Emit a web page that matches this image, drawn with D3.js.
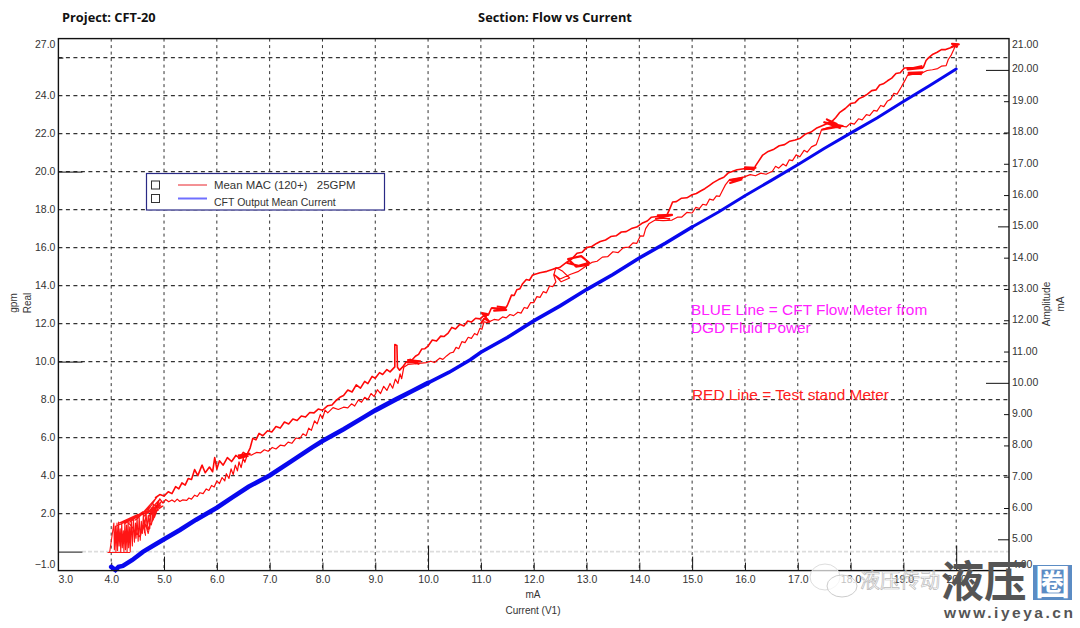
<!DOCTYPE html>
<html>
<head>
<meta charset="utf-8">
<script src="https://cdnjs.cloudflare.com/ajax/libs/d3/7.8.5/d3.min.js"></script>
<style>
  html, body { margin: 0; background: #fff; }
  text { font-family: "Liberation Sans", Arial, sans-serif; fill: #333; white-space: pre; }
  .domain { display: none; }
</style>
</head>
<body>
<svg id="chart" width="1080" height="628"></svg>
<script>
// values: [mA, gpm] for red, [mA, mA] for blue
const noiseTrace = [
  [3.93,-0.05],[4.35,-0.05],[3.97,-0.05],[4.05,1.5],[4.06,0.1],[4.08,1.35],[4.09,0],[4.11,1.5],[4.12,0.05],[4.14,1.55],
  [4.15,0.3],[4.17,1.2],[4.18,0],[4.2,1.55],[4.21,0.2],[4.23,1.1],[4.24,0],[4.26,1.6],[4.27,0.1],[4.29,1.4],
  [4.3,0],[4.32,1.65],[4.33,0.2],[4.35,1.3],[4.36,0],[4.38,1.7],[4.4,0.3],[4.42,1.75],[4.44,0.5],[4.46,1.5],
  [4.47,0.7],[4.49,1.8],[4.51,0.55],[4.53,1.85],[4.55,0.6],[4.57,1.6],[4.59,0.95],[4.61,2.0],[4.63,1.0],[4.66,2.1],
  [4.68,1.15],[4.7,1.9],[4.73,1.2],[4.76,2.3],[4.72,1.55],[4.8,2.5],[4.76,1.4],[4.84,2.45],[4.78,1.65],[4.88,2.6],
  [4.82,1.8],[4.92,2.55],[4.78,2.0],[4.96,2.65],[4.72,2.1],[4.94,2.45],[4.68,2.0],[4.9,2.7],[4.62,1.85],[4.86,2.85],
  [4.6,2.05],[4.98,2.4],[4.7,1.85],[4.85,2.3],[4.55,1.9],[4.8,2.65],[4.5,1.75],[4.75,2.4],[4.45,1.65],[4.7,2.25],
  [4.35,1.55],[4.6,2.1],[4.25,1.45],[4.5,1.95],[4.15,1.5],[4.42,1.8],[4.1,1.35],[4.3,1.6],[4.55,0.75],[4.6,1.4],
  [4.65,0.85],[4.62,1.7],[4.7,0.95],[4.74,1.5],[4.68,1.1],[4.8,1.7],[4.84,2.1],[4.9,2.2]
];
const lowerTrace = [
  [4.85,2.3],[4.92,2.78],[4.98,2.55],[5.03,2.74],[5.09,2.62],[5.15,2.72],[5.2,2.62],[5.25,2.76],[5.3,2.64],[5.35,2.72],
  [5.43,2.7],[5.47,2.82],[5.52,2.76],[5.58,2.97],[5.63,2.9],[5.68,3.1],[5.74,3.05],[5.8,3.3],[5.85,3.22],[5.9,3.48],
  [5.95,3.4],[6.0,3.72],[6.05,3.58],[6.1,3.9],[6.15,3.72],[6.18,4.1],[6.23,3.85],[6.27,4.35],[6.31,4.05],[6.35,4.55],
  [6.39,4.25],[6.42,4.72],[6.46,4.42],[6.5,4.92],[6.53,4.7],[6.58,5.12],[6.66,5.08],[6.75,5.22],[6.83,5.2],[6.9,5.36],
  [6.97,5.28],[7.05,5.48],[7.12,5.4],[7.2,5.6],[7.28,5.56],[7.35,5.76],[7.42,5.7],[7.5,5.98],[7.57,5.94],[7.63,6.2],
  [7.69,6.1],[7.74,6.5],[7.79,6.38],[7.85,6.88],[7.9,6.72],[7.96,7.22],[8.0,7.0],[8.05,7.45],[8.1,7.3],[8.2,7.58],
  [8.3,7.48],[8.4,7.6],[8.48,7.56],[8.55,7.78],[8.61,7.66],[8.68,7.98],[8.74,7.86],[8.8,8.12],[8.86,8.0],[8.92,8.32],
  [8.98,8.16],[9.04,8.52],[9.1,8.32],[9.16,8.7],[9.22,8.48],[9.28,8.85],[9.33,8.6],[9.38,9.08],[9.43,8.85],[9.47,9.35],
  [9.5,9.1],[9.54,9.7],[9.62,9.85],[9.97,9.95],[10.05,10.02],[10.12,9.95],[10.22,10.18],[10.28,10.12],[10.35,10.3],[10.42,10.45],
  [10.48,10.5],[10.53,10.75],[10.58,10.68],[10.64,11.05],[10.7,11.0],[10.76,11.28],[10.82,11.22],[10.88,11.48],[10.93,11.4],[10.98,11.75],
  [11.02,11.7],[11.06,12.1],[11.12,12.05],[11.25,12.22],[11.33,12.18],[11.41,12.35],[11.48,12.3],[11.55,12.48],[11.62,12.42],[11.7,12.6],
  [11.76,12.55],[11.82,12.85],[11.88,12.8],[11.94,13.1],[12.0,13.1],[12.06,13.42],[12.12,13.38],[12.18,13.68],[12.24,13.62],[12.3,13.98],
  [12.36,13.95],[12.42,14.2],[12.38,14.55],[12.42,14.95],[12.55,14.75],[12.68,14.4],[12.52,14.2],[12.38,14.6],[12.5,14.35],[12.7,14.6],
  [12.85,14.75],[13.03,15.1],[13.1,15.22],[13.2,15.28],[13.3,15.5],[13.4,15.52],[13.5,15.78],[13.6,15.74],[13.7,16.0],[13.8,16.02],
  [13.88,16.25],[13.95,16.22],[14.02,16.62],[14.08,16.6],[14.12,17.0],[14.18,17.25],[14.3,17.45],[14.45,17.42],[14.62,17.45],[14.72,17.6],
  [14.8,17.6],[14.9,17.85],[15.0,17.82],[15.07,18.12],[15.14,18.06],[15.2,18.28],[15.27,18.24],[15.33,18.55],[15.4,18.5],[15.46,18.72],
  [15.52,18.7],[15.57,18.98],[15.63,19.3],[15.7,19.55],[15.95,19.68],[16.1,19.84],[16.2,19.78],[16.3,19.92],[16.4,19.86],[16.52,20.02],
  [16.58,20.28],[16.64,20.18],[16.72,20.4],[16.78,20.3],[16.84,20.62],[16.9,20.58],[16.97,20.88],[17.04,20.78],[17.12,21.12],[17.18,21.02],
  [17.26,21.3],[17.35,21.42],[17.4,21.8],[17.45,22.2],[17.55,22.3],[17.75,22.42],[17.92,22.35],[18.0,22.55],[18.07,22.5],[18.15,22.78],
  [18.22,22.72],[18.3,23.0],[18.36,22.95],[18.44,23.22],[18.5,23.18],[18.57,23.48],[18.63,23.42],[18.7,23.72],[18.76,23.8],[18.82,24.12],
  [18.88,24.08],[18.96,24.45],[19.03,24.8],[19.08,25.07],[19.2,25.16],[19.36,25.2],[19.45,25.32],[19.55,25.36],[19.65,25.42],[19.72,25.55],
  [19.81,25.58],[19.85,25.9],[19.9,26.1],[19.95,26.4],[19.98,26.6]
];
const upperTrace = [
  [20.03,26.7],[19.88,26.5],[19.8,26.42],[19.72,26.42],[19.64,26.28],[19.56,26.18],[19.48,26.0],[19.43,25.85],[19.38,25.5],[19.3,25.48],
  [19.02,25.45],[18.94,25.2],[18.86,25.16],[18.78,24.92],[18.7,24.78],[18.62,24.62],[18.55,24.56],[18.48,24.3],[18.4,24.26],[18.32,24.08],
  [18.24,23.94],[18.16,23.84],[18.08,23.62],[18.0,23.58],[17.9,23.32],[17.79,23.1],[17.72,22.85],[17.64,22.62],[17.35,22.28],[17.25,22.08],
  [17.15,21.98],[17.05,21.76],[16.95,21.66],[16.85,21.6],[16.75,21.42],[16.65,21.36],[16.55,21.18],[16.44,21.06],[16.33,20.85],[16.26,20.55],
  [16.2,20.3],[16.18,20.15],[15.98,20.15],[15.85,20.1],[15.76,20.0],[15.68,19.92],[15.6,19.7],[15.5,19.58],[15.4,19.42],[15.33,19.28],
  [15.24,19.1],[15.16,18.98],[15.08,18.85],[15.0,18.78],[14.9,18.62],[14.8,18.6],[14.7,18.42],[14.63,18.4],[14.57,18.0],[14.52,17.7],
  [14.23,17.6],[14.15,17.4],[14.05,17.28],[13.95,17.08],[13.85,17.0],[13.75,16.84],[13.66,16.82],[13.56,16.62],[13.46,16.58],[13.36,16.4],
  [13.26,16.32],[13.19,16.22],[13.1,16.06],[13.0,16.0],[12.92,15.76],[12.82,15.7],[12.72,15.4],[12.62,15.22],[12.49,14.95],[12.38,14.88],
  [12.25,14.75],[12.12,14.68],[11.98,14.56],[11.92,14.28],[11.86,14.32],[11.79,14.1],[11.74,13.84],[11.68,13.78],[11.63,13.48],[11.58,13.5],
  [11.54,13.22],[11.5,12.95],[11.46,12.78],[11.2,12.82],[11.14,12.45],[11.05,12.4],[10.98,12.25],[10.9,12.28],[10.82,12.08],[10.75,12.14],
  [10.68,11.88],[10.6,11.96],[10.52,11.72],[10.45,11.8],[10.38,11.5],[10.3,11.32],[10.24,11.34],[10.16,11.08],[10.08,11.14],[10.0,10.82],
  [9.94,10.68],[9.88,10.66],[9.82,10.38],[9.76,10.28],[9.7,10.1],[9.58,9.95],[9.52,9.72],[9.46,9.55],[9.42,9.7],[9.41,10.85],
  [9.37,10.9],[9.37,9.72],[9.28,9.46],[9.22,9.58],[9.14,9.32],[9.08,9.42],[9.0,9.12],[8.94,9.22],[8.86,8.84],[8.8,8.96],
  [8.72,8.6],[8.64,8.78],[8.56,8.4],[8.48,8.5],[8.4,8.22],[8.33,8.12],[8.26,7.96],[8.18,7.72],[8.1,7.68],[8.0,7.44],
  [7.92,7.5],[7.84,7.3],[7.76,7.32],[7.68,7.08],[7.6,7.14],[7.52,6.9],[7.44,6.98],[7.36,6.72],[7.28,6.82],[7.2,6.5],
  [7.12,6.58],[7.04,6.3],[6.96,6.36],[6.87,6.1],[6.8,6.22],[6.74,5.88],[6.68,5.96],[6.63,5.45],[6.57,5.1],[6.5,5.22],
  [6.43,4.92],[6.36,5.06],[6.28,4.74],[6.2,4.95],[6.12,4.55],[6.05,4.78],[6.0,4.35],[5.96,4.95],[5.92,4.2],[5.86,4.45],
  [5.78,4.15],[5.72,4.55],[5.64,4.0],[5.58,4.32],[5.52,3.8],[5.46,3.85],[5.4,3.5],[5.34,3.62],[5.28,3.3],[5.22,3.42],
  [5.15,3.05],[5.08,3.15],[5.0,2.92],[4.92,3.0],[4.83,2.82]
];
// tight dwell knots on the trace
const knots = [
  [[6.4,5.05],[6.62,5.15],[6.42,4.92],[6.6,5.05]],
  [[9.6,9.95],[9.85,10.02],[9.62,10.08],[9.82,9.88],[9.66,10.1],[9.78,9.9]],
  [[11.0,12.0],[11.12,12.5],[11.02,12.55],[11.16,12.1],[11.05,12.3]],
  [[11.2,12.82],[11.48,12.72],[11.25,12.68],[11.46,12.85],[11.3,12.9]],
  [[12.62,15.2],[12.85,15.05],[13.05,15.2],[12.9,15.55],[12.65,15.4],[12.8,15.0],[13.05,15.1]],
  [[14.3,17.5],[14.62,17.72],[14.35,17.7],[14.58,17.5]],
  [[15.7,19.55],[15.95,19.68],[15.72,19.4],[15.95,19.6]],
  [[15.98,20.12],[16.2,20.2],[16.0,20.22],[16.18,20.08]],
  [[17.45,22.2],[17.85,22.4],[17.5,22.6],[17.8,22.3],[17.55,22.75],[17.75,22.5]],
  [[19.06,25.45],[19.36,25.45],[19.08,25.38],[19.36,25.55]],
  [[19.08,25.1],[19.36,25.22],[19.1,25.2],[19.35,25.12]],
  [[19.9,26.55],[20.05,26.7],[19.92,26.72],[20.03,26.55]]
];
const redPaths = [
  { width: 1.1, opacity: 0.95, points: noiseTrace },
  { width: 1.2, opacity: 1, points: lowerTrace },
  { width: 1.6, opacity: 1, points: upperTrace }
].concat(knots.map((points) => ({ width: 2.1, opacity: 1, points })));

const blueSegments = [
  { width: 4.6, points: [[4.0,4.12],[4.08,4.02],[4.14,4.12],[4.22,4.15],[4.4,4.34],[4.6,4.6],[4.8,4.8],[5.0,5.0],[5.3,5.3],[5.6,5.62],[6.0,6.01],[6.3,6.35],[6.6,6.68],[7.0,7.04],[7.4,7.48],[7.8,7.93],[8.0,8.14],[8.4,8.52],[8.8,8.92],[9.0,9.12],[9.4,9.48],[9.7,9.74],[10.0,10.0]] },
  { width: 3.6, points: [[10.0,10.0],[10.4,10.34],[10.8,10.74],[11.0,10.98],[11.5,11.45],[12.0,11.98],[12.5,12.46],[13.0,12.98],[13.5,13.46],[14.0,13.99],[14.5,14.47],[15.0,14.98]] },
  { width: 3, points: [[15.0,14.98],[15.5,15.46],[16.0,15.98],[16.5,16.47],[17.0,16.97],[17.5,17.49],[18.0,17.98],[18.5,18.46],[19.0,18.99],[19.5,19.5],[20.0,20.03]] }
];

const plot = { left: 58.4, right: 1009, top: 38.6, bottom: 570.6 };
const svg = d3.select("#chart");

const x = d3.scaleLinear().domain([3, 21]).range([plot.left, plot.right]);
const yLeft = d3.scaleLinear().domain([-1, 27]).range([plot.bottom, plot.top]);
const yRight = d3.scaleLinear().domain([4, 21]).range([plot.bottom, plot.top]);

// grid
const gridLayer = svg.append("g").attr("class", "grid-layer");
gridLayer.selectAll("line.v")
  .data(d3.range(4, 21))
  .join("line")
  .attr("class", "v")
  .attr("x1", (d) => x(d)).attr("x2", (d) => x(d))
  .attr("y1", plot.top).attr("y2", plot.bottom)
  .attr("stroke", "#333").attr("stroke-width", 1)
  .attr("stroke-dasharray", "3,3.5");
gridLayer.selectAll("line.h")
  .data(d3.range(2, 27, 2))
  .join("line")
  .attr("class", "h")
  .attr("x1", plot.left).attr("x2", plot.right)
  .attr("y1", (d) => yLeft(d)).attr("y2", (d) => yLeft(d))
  .attr("stroke", "#333").attr("stroke-width", 1.1)
  .attr("stroke-dasharray", "4,3.5");
gridLayer.append("line")
  .attr("x1", 82).attr("x2", plot.right)
  .attr("y1", yLeft(0)).attr("y2", yLeft(0))
  .attr("stroke", "#ddd").attr("stroke-width", 1.6)
  .attr("stroke-dasharray", "4,2");

// axes
const tickLen = (d) => (d % 10 === 0 ? 25 : d % 5 === 0 ? 14 : 8);
const rightLen = (d) => (d % 10 === 0 ? 23 : d % 5 === 0 ? 11 : 5);

const xAxis = svg.append("g")
  .attr("transform", `translate(0,${plot.bottom})`)
  .call(d3.axisBottom(x).tickValues(d3.range(3, 21)).tickSize(0).tickPadding(5).tickFormat(d3.format(".1f")));
xAxis.selectAll("line").attr("y2", (d) => (d === 3 ? 0 : -tickLen(d))).attr("stroke", "#111");
xAxis.selectAll("text").attr("font-size", 10.5).attr("dx", (d) => (d === 3 ? 7 : 0));

const leftTicks = [-1, 0, 2, 4, 6, 8, 10, 12, 14, 16, 18, 20, 22, 24, 26, 27];
const yAxisLeft = svg.append("g")
  .attr("transform", `translate(${plot.left},0)`)
  .call(d3.axisLeft(yLeft).tickValues(leftTicks).tickSize(0).tickPadding(3)
    .tickFormat((d) => (d === 0 || d === 26 ? "" : d3.format(".1f")(d))));
yAxisLeft.selectAll("line")
  .attr("x2", (d) => (d === -1 || d === 27 ? 0 : d % 10 === 0 ? 24 : d === 26 ? 5 : 0))
  .attr("stroke", "#111");
yAxisLeft.selectAll("text")
  .attr("font-size", 10.5)
  .attr("dy", (d) => (d === 27 ? 9 : d === -1 ? -3 : 2.5));

const yAxisRight = svg.append("g")
  .attr("transform", `translate(${plot.right},0)`)
  .call(d3.axisRight(yRight).tickValues(d3.range(4, 22)).tickSize(0).tickPadding(3)
    .tickFormat(d3.format(".2f")));
yAxisRight.selectAll("line")
  .attr("x2", (d) => (d === 4 || d === 21 ? 0 : -rightLen(d)))
  .attr("stroke", "#111");
yAxisRight.selectAll("text")
  .attr("font-size", 10.5)
  .attr("dy", (d) => (d === 21 ? 9 : d === 4 ? -3 : d === 20 ? 1.5 : 2.5));

// traces
const lineLeft = d3.line().x((d) => x(d[0])).y((d) => yLeft(d[1]));
const lineRight = d3.line().x((d) => x(d[0])).y((d) => yRight(d[1]));

svg.append("g").selectAll("path")
  .data(blueSegments)
  .join("path")
  .attr("d", (d) => lineRight(d.points))
  .attr("fill", "none")
  .attr("stroke", "#0808ee")
  .attr("stroke-linecap", "round")
  .attr("stroke-width", (d) => d.width);

svg.append("g").selectAll("path")
  .data(redPaths)
  .join("path")
  .attr("d", (d) => lineLeft(d.points))
  .attr("fill", "none")
  .attr("stroke", "#ff0808")
  .attr("stroke-opacity", (d) => d.opacity)
  .attr("stroke-width", (d) => d.width)
  .attr("stroke-linejoin", "round");

// frame
svg.append("rect")
  .attr("x", plot.left).attr("y", plot.top)
  .attr("width", plot.right - plot.left).attr("height", plot.bottom - plot.top)
  .attr("fill", "none").attr("stroke", "#111").attr("stroke-width", 1.4);

// legend
const legend = svg.append("g");
legend.append("rect")
  .attr("x", 146.5).attr("y", 173.5).attr("width", 238).attr("height", 36.5)
  .attr("fill", "#fff").attr("stroke", "#2a2a85").attr("stroke-width", 1.2);
const legendRows = [
  { label: "Mean MAC (120+)   25GPM", color: "#e8222a", lw: 1, boxY: 181, lineY: 185, textY: 189, size: 11.4 },
  { label: "CFT Output Mean Current", color: "#6f6fff", lw: 2, boxY: 194.5, lineY: 198.5, textY: 205.5, size: 10.5 }
];
const rows = legend.selectAll("g").data(legendRows).join("g");
rows.append("rect")
  .attr("x", 151.5).attr("y", (d) => d.boxY).attr("width", 8).attr("height", 8)
  .attr("fill", "#fff").attr("stroke", "#333");
rows.append("line")
  .attr("x1", 178).attr("x2", 207)
  .attr("y1", (d) => d.lineY).attr("y2", (d) => d.lineY)
  .attr("stroke", (d) => d.color).attr("stroke-width", (d) => d.lw);
rows.append("text")
  .attr("x", 214).attr("y", (d) => d.textY)
  .attr("font-size", (d) => d.size)
  .text((d) => d.label);

// titles
const bold = '"Open Sans", sans-serif';
svg.append("text").attr("x", 62).attr("y", 22).attr("font-size", 12.8).attr("font-weight", 700)
  .style("font-family", bold).style("fill", "#111").text("Project: CFT-20");
svg.append("text").attr("x", 555).attr("y", 22).attr("font-size", 12.8).attr("font-weight", 700)
  .attr("text-anchor", "middle")
  .style("font-family", bold).style("fill", "#111").text("Section: Flow vs Current");

// axis labels
const sideLabel = (tx, ty, label) =>
  svg.append("text")
    .attr("transform", `translate(${tx},${ty}) rotate(-90)`)
    .attr("text-anchor", "middle")
    .attr("font-size", 10)
    .text(label);
sideLabel(17, 303, "gpm");
sideLabel(31, 303, "Real");
sideLabel(1050, 304, "Amplitude");
sideLabel(1064, 304, "mA");
svg.append("text").attr("x", 533).attr("y", 598).attr("text-anchor", "middle").attr("font-size", 10).text("mA");
svg.append("text").attr("x", 533).attr("y", 614).attr("text-anchor", "middle").attr("font-size", 10).text("Current (V1)");

// annotations
const notes = [
  { x: 691, y: 315, color: "#ff22ff", text: "BLUE Line = CFT Flow Meter from" },
  { x: 691, y: 333, color: "#ff22ff", text: "DGD Fluid Power" },
  { x: 692, y: 400, color: "#ff2020", text: "RED Line = Test stand Meter" }
];
svg.append("g").selectAll("text").data(notes).join("text")
  .attr("x", (d) => d.x).attr("y", (d) => d.y)
  .attr("font-size", 15.4)
  .style("fill", (d) => d.color)
  .text((d) => d.text);

// watermark
const mark = svg.append("g");
mark.append("ellipse").attr("cx", 825).attr("cy", 577).attr("rx", 15).attr("ry", 13)
  .attr("fill", "#fff").attr("fill-opacity", 0.7).attr("stroke", "#ddd");
mark.append("ellipse").attr("cx", 842).attr("cy", 586).attr("rx", 15).attr("ry", 11)
  .attr("fill", "#fff").attr("fill-opacity", 0.7).attr("stroke", "#ccc");
mark.append("text").attr("x", 860).attr("y", 588).attr("font-size", 20)
  .style("font-family", '"Noto Sans CJK SC"').style("fill", "none")
  .attr("stroke", "#bbb").attr("stroke-width", 0.7)
  .text("液压传动");
mark.append("text").attr("x", 941).attr("y", 597).attr("font-size", 43).attr("font-weight", 700)
  .style("font-family", '"Noto Sans CJK SC"').style("fill", "#555")
  .text("液压");
mark.append("rect").attr("x", 1033).attr("y", 565).attr("width", 39).attr("height", 35).attr("fill", "#5b8cc4");
mark.append("text").attr("x", 1052.5).attr("y", 595).attr("font-size", 35).attr("font-weight", 700)
  .attr("text-anchor", "middle")
  .style("font-family", '"Noto Sans CJK SC"').style("fill", "#fff")
  .text("圈");
mark.append("text").attr("x", 944).attr("y", 618).attr("font-size", 15.5).attr("font-weight", 700)
  .attr("textLength", 129)
  .style("fill", "#555")
  .text("www.iyeya.cn");
</script>
</body>
</html>
